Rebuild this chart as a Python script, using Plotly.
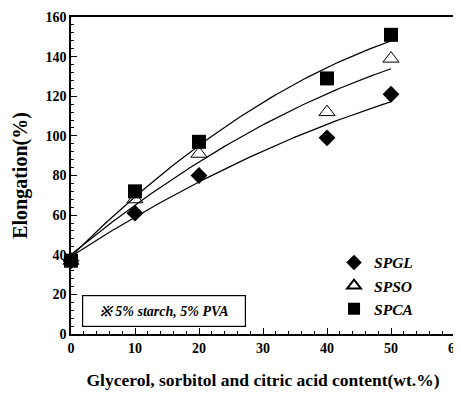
import numpy as np
import plotly.graph_objects as go

content = [0, 10, 20, 40, 50]
spgl = [37, 61, 80, 99, 121]
spso = [37, 68, 91, 112, 139]
spca = [37, 72, 97, 129, 151]

series = [
    ("SPGL", spgl, dict(symbol="diamond", size=13, color="black")),
    ("SPSO", spso, dict(symbol="triangle-up-open", size=14, color="black", line=dict(width=1, color="black"))),
    ("SPCA", spca, dict(symbol="square", size=14, color="black")),
]

font = "Liberation Serif"
fig = go.Figure()
xs = np.linspace(0, 50, 101)
for name, ys, mk in series:
    c = np.polyfit(content, ys, 2)
    fig.add_trace(go.Scatter(x=xs, y=np.polyval(c, xs), mode="lines",
                             line=dict(color="black", width=1.2), showlegend=False,
                             hoverinfo="skip", cliponaxis=False))
for name, ys, mk in series:
    fig.add_trace(go.Scatter(x=content, y=ys, mode="markers", name=name, marker=mk,
                             cliponaxis=False))

axis_common = dict(showline=True, linecolor="black", linewidth=1.5, mirror=True,
                   showgrid=False, zeroline=False, ticks="inside", ticklen=6,
                   tickcolor="black", automargin=False, ticklabeloverflow="allow",
                   tickfont=dict(family=font, size=14, color="black"))

xt = [0, 10, 20, 30, 40, 50, 60]
yt = [0, 20, 40, 60, 80, 100, 120, 140, 160]
fig.update_layout(
    width=453, height=386,
    margin=dict(l=63, r=6, t=9, b=60),
    plot_bgcolor="white", paper_bgcolor="white",
    font=dict(family=font, color="black"),
    xaxis=dict(range=[0, 60], tickvals=xt, ticktext=["<b>%d</b>" % v for v in xt],
               minor=dict(dtick=2, ticks="inside", ticklen=3, tickcolor="black"),
               title=dict(text="<b>Glycerol, sorbitol and citric acid content(wt.%)</b>",
                          font=dict(family=font, size=17.5), standoff=19),
               **axis_common),
    yaxis=dict(range=[0, 160], tickvals=yt, ticktext=["<b>%d</b>" % v for v in yt],
               minor=dict(dtick=4, ticks="inside", ticklen=3, tickcolor="black"),
               title=dict(text="<b>Elongation(%)</b>", font=dict(family=font, size=20), standoff=12),
               **axis_common),
    legend=dict(x=0.685, y=0.278, xanchor="left", yanchor="top", bgcolor="rgba(0,0,0,0)",
                font=dict(family=font, size=15.5, color="black", style="italic", weight="bold"),
                tracegroupgap=0, itemsizing="constant"),
    showlegend=True,
)
fig.add_annotation(x=0.241, y=0.074, xref="paper", yref="paper", xanchor="center", yanchor="middle",
                   text="<b><i>※ 5% starch, 5% PVA</i></b>", showarrow=False,
                   width=154, height=22,
                   font=dict(family=font, size=14, color="black"),
                   bordercolor="black", borderwidth=1.2, borderpad=4, bgcolor="white")
fig.write_html("out.html")
